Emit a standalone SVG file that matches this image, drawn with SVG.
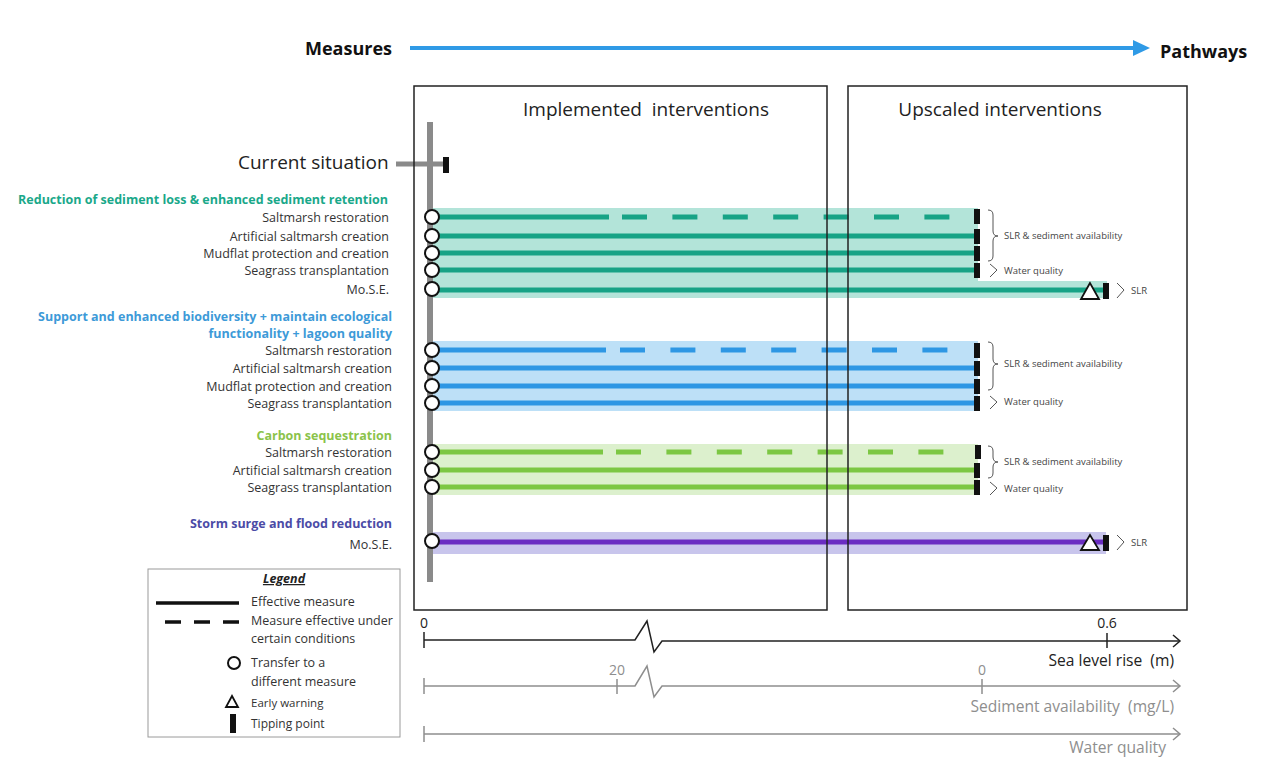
<svg xmlns="http://www.w3.org/2000/svg" width="1278" height="758" viewBox="0 0 1278 758">
<style>
text{font-family:"Open Sans","Liberation Sans",sans-serif;}
.item{font-size:12.5px;fill:#333;text-anchor:end;}
.head{font-size:12.5px;font-weight:bold;text-anchor:end;}
.small{font-size:9.5px;fill:#444;}
.leg{font-size:12.5px;fill:#333;}
.box{fill:none;stroke:#222;stroke-width:1.5;}
.circ{fill:#fff;stroke:#111;stroke-width:2;}
.tip{fill:#111;}
.tri{fill:#fff;stroke:#111;stroke-width:1.8;}
.brace{fill:none;stroke:#555;stroke-width:1;}
.teal{stroke:#17a386;stroke-width:5;}
.blue{stroke:#2e97e4;stroke-width:5;}
.green{stroke:#7cc743;stroke-width:5;}
.purple{stroke:#6a2dc2;stroke-width:5;}
.dash{stroke-dasharray:25 25.4;}
.axis{fill:none;stroke:#222;stroke-width:1.5;}
.gaxis{fill:none;stroke:#8e8e8e;stroke-width:1.5;}
</style>
<rect width="1278" height="758" fill="#fff"/>

<g id="header">
<text x="305" y="55" font-size="18" font-weight="bold" fill="#111">Measures</text>
<line x1="410" y1="48" x2="1136" y2="48" stroke="#2f9ae6" stroke-width="4"/>
<polygon points="1133,40 1150,48 1133,56" fill="#2f9ae6"/>
<text x="1160" y="58" font-size="18" font-weight="bold" fill="#111">Pathways</text>
</g>

<!-- bands -->
<g id="bands">
<rect x="433" y="208" width="545" height="73" fill="#b3e4d9"/>
<rect x="433" y="281" width="674" height="17" fill="#b3e4d9"/>
<rect x="433" y="341" width="545" height="70" fill="#bde0f7"/>
<rect x="433" y="444" width="545" height="51" fill="#dcf0cd"/>
<rect x="433" y="532" width="673" height="22" fill="#c8c5ec"/>
</g>

<g id="timeline">
<line x1="430" y1="122" x2="430" y2="582" stroke="#8a8a8a" stroke-width="6"/>
<line x1="396" y1="164" x2="445" y2="164" stroke="#8a8a8a" stroke-width="5"/>
<rect class="tip" x="443" y="157" width="6" height="16"/>
<text x="238" y="169" font-size="19" fill="#222">Current situation</text>
</g>

<g id="connectors">
<line class="teal" x1="433" y1="217" x2="609" y2="217"/>
<line class="teal dash" x1="622" y1="217" x2="950" y2="217"/>
<line class="teal" x1="433" y1="236" x2="976" y2="236"/>
<line class="teal" x1="433" y1="253" x2="976" y2="253"/>
<line class="teal" x1="433" y1="270" x2="976" y2="270"/>
<line class="teal" x1="433" y1="290" x2="1104" y2="290"/>
<line class="blue" x1="433" y1="350" x2="606" y2="350"/>
<line class="blue dash" x1="620" y1="350" x2="948" y2="350"/>
<line class="blue" x1="433" y1="368" x2="976" y2="368"/>
<line class="blue" x1="433" y1="386" x2="976" y2="386"/>
<line class="blue" x1="433" y1="403" x2="976" y2="403"/>
<line class="green" x1="433" y1="452" x2="603" y2="452"/>
<line class="green dash" x1="616" y1="452" x2="948" y2="452"/>
<line class="green" x1="433" y1="470" x2="976" y2="470"/>
<line class="green" x1="433" y1="487" x2="976" y2="487"/>
<line class="purple" x1="433" y1="542" x2="1104" y2="542"/>
</g>

<g id="boxes">
<rect class="box" x="414" y="86" width="413" height="524"/>
<text x="646" y="116" font-size="19" fill="#222" text-anchor="middle" style="white-space:pre">Implemented  interventions</text>
<rect class="box" x="848" y="86" width="339" height="524"/>
<text x="1000" y="116" font-size="19" fill="#222" text-anchor="middle">Upscaled interventions</text>
</g>

<g id="group-sediment">
<text class="head" x="388" y="204" fill="#1aa88a">Reduction of sediment loss &amp; enhanced sediment retention</text>
<text class="item" x="389" y="222">Saltmarsh restoration</text>
<text class="item" x="389" y="241">Artificial saltmarsh creation</text>
<text class="item" x="389" y="258">Mudflat protection and creation</text>
<text class="item" x="389" y="275">Seagrass transplantation</text>
<text class="item" x="389" y="294">Mo.S.E.</text>
<circle class="circ" cx="432" cy="217" r="7"/>
<circle class="circ" cx="432" cy="236" r="7"/>
<circle class="circ" cx="432" cy="253" r="7"/>
<circle class="circ" cx="432" cy="270" r="7"/>
<circle class="circ" cx="432" cy="289" r="7"/>
<rect class="tip" x="974" y="209" width="6" height="15"/>
<rect class="tip" x="974" y="229" width="6" height="15"/>
<rect class="tip" x="974" y="246" width="6" height="15"/>
<rect class="tip" x="974" y="263" width="6" height="15"/>
<polygon class="tri" points="1090,283 1081,299 1099,299"/>
<rect class="tip" x="1103" y="283" width="6" height="16"/>
<path class="brace" d="M988,210 q5,0 5,5 v16 q0,5 5,5 q-5,0 -5,5 v15 q0,5 -5,5"/>
<text class="small" x="1004" y="239">SLR &amp; sediment availability</text>
<path class="brace" d="M990,264 l7,6 l-7,7"/>
<text class="small" x="1004" y="274">Water quality</text>
<path class="brace" d="M1117,283 l7,7 l-7,8"/>
<text class="small" x="1131" y="294">SLR</text>
</g>

<g id="group-biodiversity">
<text class="head" x="392" y="321" fill="#3d9ad8">Support and enhanced biodiversity + maintain ecological</text>
<text class="head" x="392" y="338" fill="#3d9ad8">functionality + lagoon quality</text>
<text class="item" x="392" y="355">Saltmarsh restoration</text>
<text class="item" x="392" y="373">Artificial saltmarsh creation</text>
<text class="item" x="392" y="391">Mudflat protection and creation</text>
<text class="item" x="392" y="408">Seagrass transplantation</text>
<circle class="circ" cx="432" cy="350" r="7"/>
<circle class="circ" cx="432" cy="368" r="7"/>
<circle class="circ" cx="432" cy="386" r="7"/>
<circle class="circ" cx="432" cy="403" r="7"/>
<rect class="tip" x="974" y="343" width="6" height="15"/>
<rect class="tip" x="974" y="361" width="6" height="15"/>
<rect class="tip" x="974" y="379" width="6" height="15"/>
<rect class="tip" x="974" y="396" width="6" height="15"/>
<path class="brace" d="M988,342 q5,0 5,5 v12 q0,5 5,5 q-5,0 -5,5 v16 q0,5 -5,5"/>
<text class="small" x="1004" y="367">SLR &amp; sediment availability</text>
<path class="brace" d="M990,396 l7,6 l-7,7"/>
<text class="small" x="1004" y="405">Water quality</text>
</g>

<g id="group-carbon">
<text class="head" x="392" y="440" fill="#8bc34a">Carbon sequestration</text>
<text class="item" x="392" y="457">Saltmarsh restoration</text>
<text class="item" x="392" y="475">Artificial saltmarsh creation</text>
<text class="item" x="392" y="492">Seagrass transplantation</text>
<circle class="circ" cx="432" cy="452" r="7"/>
<circle class="circ" cx="432" cy="470" r="7"/>
<circle class="circ" cx="432" cy="487" r="7"/>
<rect class="tip" x="975" y="445" width="6" height="14"/>
<rect class="tip" x="974" y="463" width="6" height="15"/>
<rect class="tip" x="974" y="480" width="6" height="15"/>
<path class="brace" d="M988,446 q5,0 5,5 v6 q0,5 5,5 q-5,0 -5,5 v6 q0,5 -5,5"/>
<text class="small" x="1004" y="465">SLR &amp; sediment availability</text>
<path class="brace" d="M990,482 l7,6 l-7,7"/>
<text class="small" x="1004" y="492">Water quality</text>
</g>

<g id="group-storm">
<text class="head" x="392" y="528" fill="#4b4ba6">Storm surge and flood reduction</text>
<text class="item" x="392" y="549">Mo.S.E.</text>
<circle class="circ" cx="432" cy="541" r="7"/>
<polygon class="tri" points="1090,535 1081,550 1099,550"/>
<rect class="tip" x="1103" y="535" width="6" height="16"/>
<path class="brace" d="M1117,535 l7,7 l-7,8"/>
<text class="small" x="1131" y="546">SLR</text>
</g>

<g id="legend">
<rect x="148" y="569" width="252" height="168" fill="#fff" stroke="#9a9a9a" stroke-width="1"/>
<text x="284" y="583" font-size="12.5" font-weight="bold" font-style="italic" text-anchor="middle" text-decoration="underline" fill="#222">Legend</text>
<line x1="156" y1="603" x2="239" y2="603" stroke="#111" stroke-width="3.5"/>
<text class="leg" x="251" y="606">Effective measure</text>
<line x1="165" y1="622" x2="239" y2="622" stroke="#111" stroke-width="3.5" stroke-dasharray="16 13"/>
<text class="leg" x="251" y="625">Measure effective under</text>
<text class="leg" x="251" y="643">certain conditions</text>
<circle cx="234" cy="663" r="6" fill="#fff" stroke="#111" stroke-width="2"/>
<text class="leg" x="251" y="667">Transfer to a</text>
<text class="leg" x="251" y="686">different measure</text>
<polygon points="232,696 226,707 238,707" fill="#fff" stroke="#111" stroke-width="1.8"/>
<text x="251" y="707" font-size="11.5" fill="#333">Early warning</text>
<rect x="230" y="714" width="6" height="19" fill="#111"/>
<text x="251" y="728" font-size="12" fill="#333">Tipping point</text>
</g>

<g id="axes">
<text x="424" y="628" font-size="14" fill="#222" text-anchor="middle">0</text>
<line class="axis" x1="424" y1="632" x2="424" y2="648"/>
<polyline class="axis" points="424,640 635,640 647,621 654,652 662,641 1180,641"/>
<polyline class="axis" points="1173,635 1180,641 1173,647"/>
<text x="1107" y="628" font-size="14" fill="#222" text-anchor="middle">0.6</text>
<line class="axis" x1="1107" y1="633" x2="1107" y2="648"/>
<text x="1174" y="666" font-size="15.6" fill="#222" text-anchor="end" style="white-space:pre">Sea level rise  (m)</text>

<line class="gaxis" x1="424" y1="678" x2="424" y2="694"/>
<polyline class="gaxis" points="424,686 635,686 647,666 654,697 662,686 1180,686"/>
<polyline class="gaxis" points="1173,680 1180,686 1173,692"/>
<text x="617" y="675" font-size="14" fill="#8e8e8e" text-anchor="middle">20</text>
<line class="gaxis" x1="617" y1="679" x2="617" y2="694"/>
<text x="982" y="675" font-size="14" fill="#8e8e8e" text-anchor="middle">0</text>
<line class="gaxis" x1="982" y1="679" x2="982" y2="694"/>
<text x="1174" y="712" font-size="15.6" fill="#8e8e8e" text-anchor="end" style="white-space:pre">Sediment availability  (mg/L)</text>

<line class="gaxis" x1="424" y1="726" x2="424" y2="742"/>
<polyline class="gaxis" points="424,734 1180,734"/>
<polyline class="gaxis" points="1173,728 1180,734 1173,740"/>
<text x="1166" y="753" font-size="15.6" fill="#8e8e8e" text-anchor="end">Water quality</text>
</g>
</svg>
